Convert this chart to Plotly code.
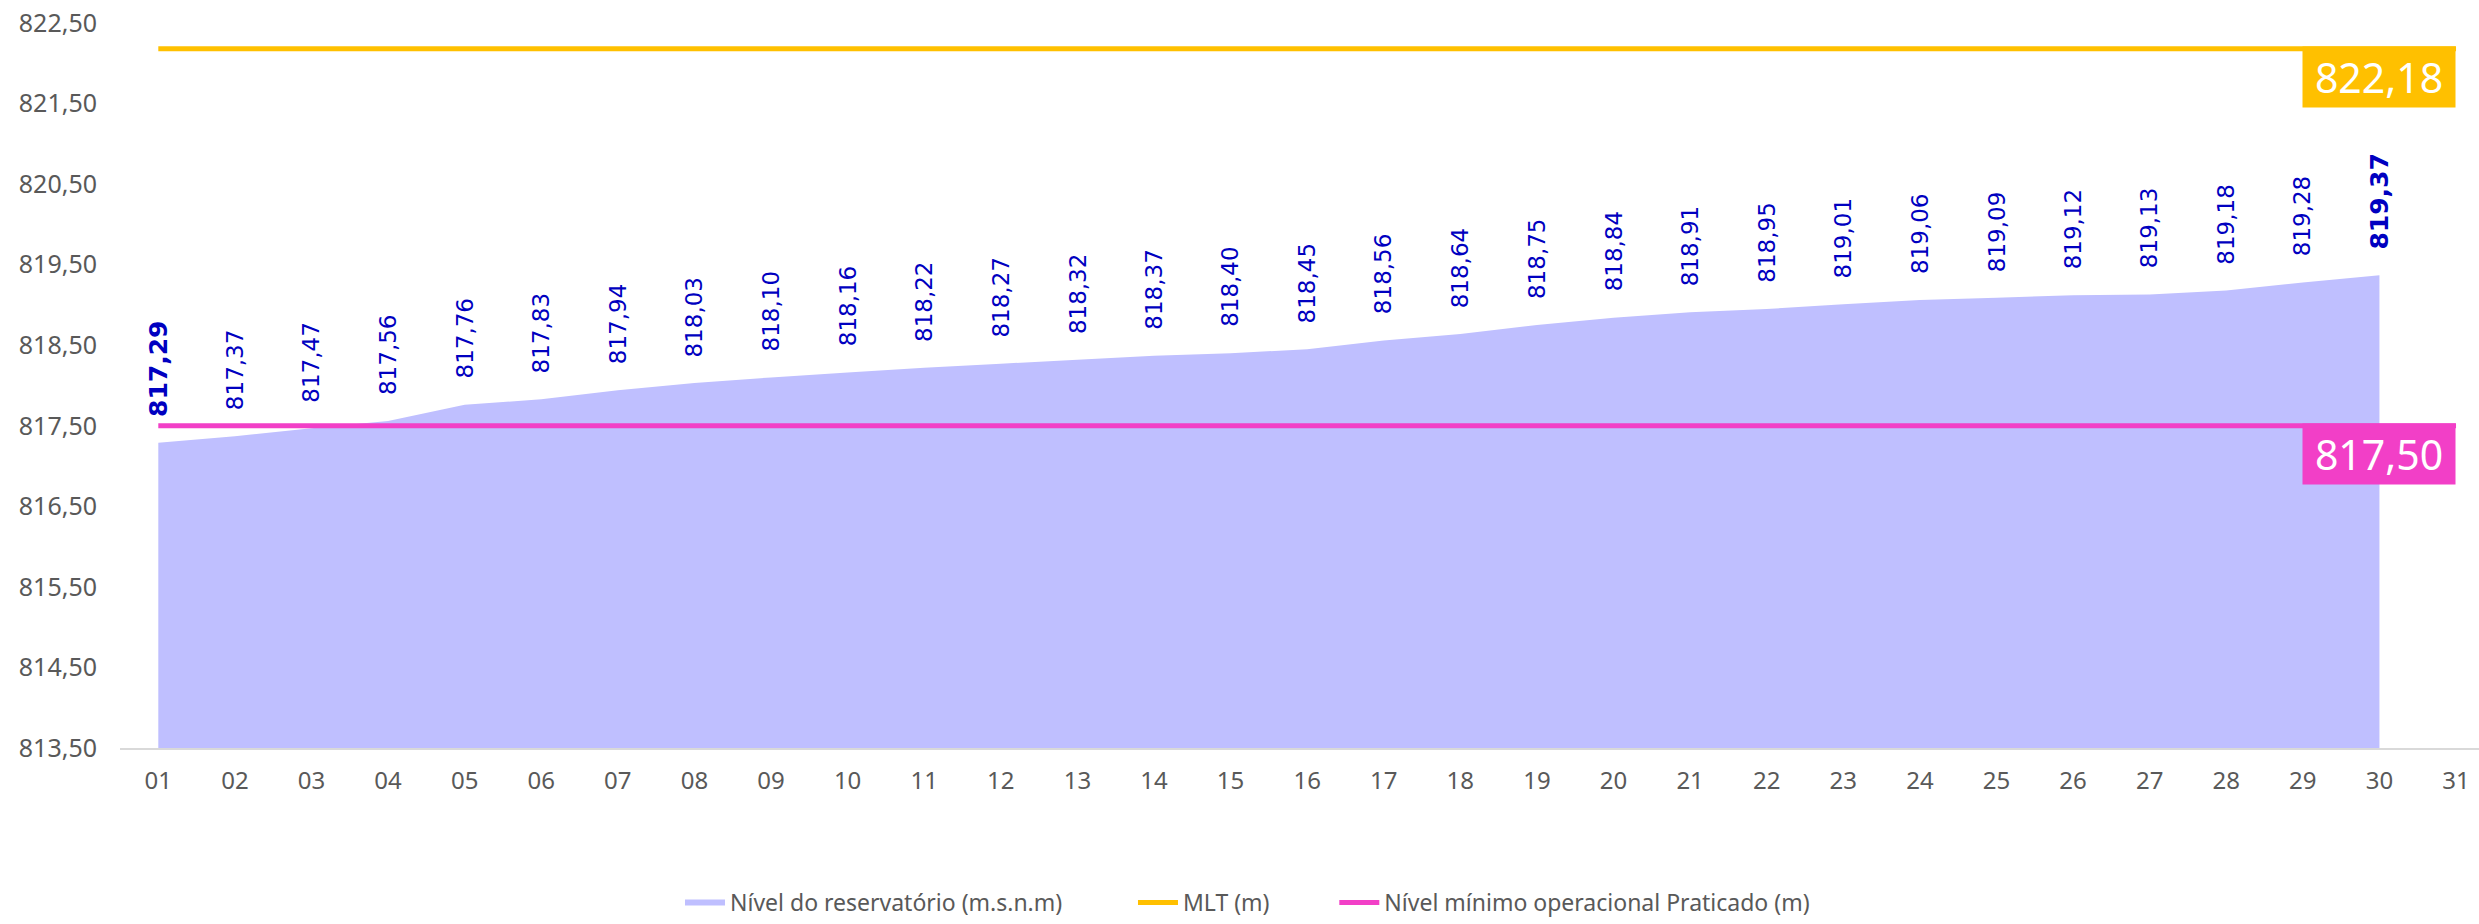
import plotly.graph_objects as go

days = [f"{d:02d}" for d in range(1, 32)]
nivel = [817.29, 817.37, 817.47, 817.56, 817.76, 817.83, 817.94, 818.03, 818.10, 818.16,
         818.22, 818.27, 818.32, 818.37, 818.40, 818.45, 818.56, 818.64, 818.75, 818.84,
         818.91, 818.95, 819.01, 819.06, 819.09, 819.12, 819.13, 819.18, 819.28, 819.37]
mlt_value = 822.18
min_value = 817.50
mlt = [mlt_value] * 31
minimo = [min_value] * 31
y_ticks = [813.5, 814.5, 815.5, 816.5, 817.5, 818.5, 819.5, 820.5, 821.5, 822.5]

xs = list(range(1, 32))
PAD1 = "\u00a0" * 11
PAD2 = "\u00a0" * 10

L_MARGIN = 120
PLOT_TOP = 23
PLOT_H = 725


def br(v):
    return f"{v:.2f}".replace(".", ",")


def paper_y(px):
    return 1 - (px - PLOT_TOP) / PLOT_H


fig = go.Figure()
fig.add_trace(go.Scatter(x=xs[:len(nivel)], y=nivel, mode="none", fill="tozeroy",
                         fillcolor="#BFBFFF", name="Nível do reservatório (m.s.n.m)" + PAD1))
fig.add_trace(go.Scatter(x=xs, y=mlt, mode="lines", line=dict(color="#FFC000", width=5),
                         name="MLT (m)" + PAD2))
fig.add_trace(go.Scatter(x=xs, y=minimo, mode="lines", line=dict(color="#F23FC7", width=5),
                         name="Nível mínimo operacional Praticado (m)"))

for i, v in enumerate(nivel):
    bold = i == 0 or i == len(nivel) - 1
    txt = f"<b>{br(v)}</b>" if bold else br(v)
    fig.add_annotation(x=xs[i], y=v, text=txt, textangle=-90, showarrow=False,
                       xanchor="center", yanchor="bottom", yshift=24,
                       font=dict(family="DejaVu Sans", size=25 if bold else 23, color="#0000C0"))

fig.add_annotation(x=31, y=mlt_value, text=br(mlt_value), showarrow=False,
                   xanchor="right", yanchor="top", yshift=2.5, bgcolor="#FFC000",
                   borderpad=0, width=152, height=60, align="center",
                   font=dict(family="Noto Sans", size=41, color="white"))
fig.add_annotation(x=31, y=min_value, text=br(min_value), showarrow=False,
                   xanchor="right", yanchor="top", yshift=2.5, bgcolor="#F23FC7",
                   borderpad=0, width=152, height=60, align="center",
                   font=dict(family="Noto Sans", size=41, color="white"))

fig.update_layout(
    width=2479, height=924,
    margin=dict(l=L_MARGIN, r=0, t=PLOT_TOP, b=924 - PLOT_TOP - PLOT_H, autoexpand=False),
    plot_bgcolor="white", paper_bgcolor="white",
    font=dict(family="Noto Sans", size=23, color="#595959"),
    showlegend=True,
    legend=dict(orientation="h", x=(680 - L_MARGIN) / (2479 - L_MARGIN), xanchor="left",
                y=paper_y(924), yanchor="bottom",
                font=dict(family="Noto Sans", size=23, color="#595959"), itemwidth=40,
                tracegroupgap=0),
    xaxis=dict(range=[0.5, 31.3], tickmode="array", tickvals=xs, ticktext=days,
               showgrid=False, zeroline=False, showline=True, linecolor="#D9D9D9", linewidth=2,
               ticks="", ticklabelstandoff=10, tickfont=dict(family="Noto Sans", size=24, color="#595959")),
    yaxis=dict(range=[813.5, 822.5], tickmode="array", tickvals=y_ticks,
               ticktext=[br(t) for t in y_ticks], showgrid=False, zeroline=False,
               showline=False, ticks="", ticklabelstandoff=22,
               tickfont=dict(family="Noto Sans", size=25, color="#595959")),
)

fig.write_html(
    "out.html",
    config={"displayModeBar": False},
    post_script="document.body.style.margin='0';document.body.style.padding='0';"
                "document.body.style.overflow='hidden';",
)
